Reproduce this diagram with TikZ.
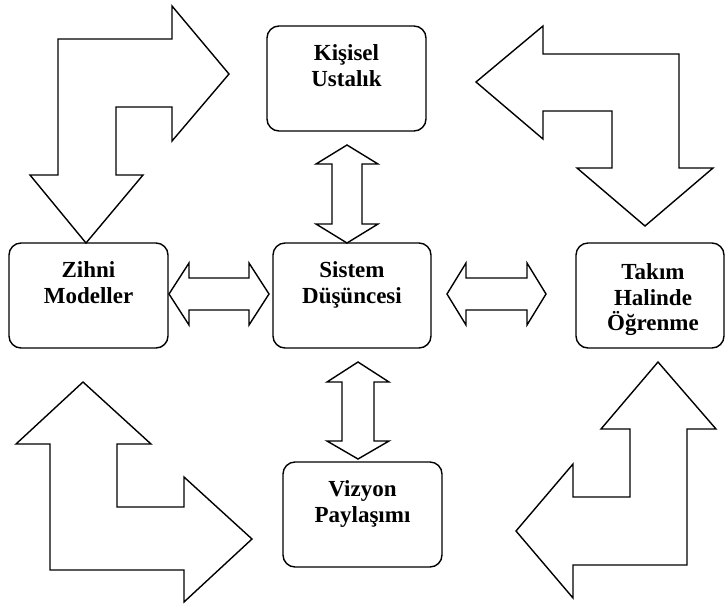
\documentclass[tikz,border=0pt]{standalone}
\usepackage{fontspec}
\setmainfont{Liberation Serif}
\begin{document}
\begin{tikzpicture}[x=1pt, y=-1pt, line width=1.4pt, line join=miter,
  discbox/.style={draw, rounded corners=12pt, minimum height=105pt, inner sep=0pt},
  disctext/.style={anchor=north, inner sep=0pt, align=center,
    font=\fontsize{23}{25.5}\selectfont\bfseries},
  blockarrow/.style={draw, fill=white}]
  \useasboundingbox (0,0) rectangle (725,606);
  \fill[white] (0,0) rectangle (725,606);

  % the five disciplines
  \node[discbox, minimum width=159pt] (kis) at (346.5,78.5) {};
  \node[discbox, minimum width=158pt] (sis) at (352,295.5) {};
  \node[discbox, minimum width=159pt] (zih) at (88.5,295.5) {};
  \node[discbox, minimum width=148pt] (tak) at (650,295.5) {};
  \node[discbox, minimum width=159pt] (viz) at (362.5,514.5) {};

  \node[disctext] (kist) at ([yshift=-19pt]kis.north) {Kişisel\\Ustalık};
  \node[disctext] (sist) at ([yshift=-19pt]sis.north) {Sistem\\Düşüncesi};
  \node[disctext] (ziht) at ([yshift=-19pt]zih.north) {Zihni\\Modeller};
  \node[disctext] (takt) at ([xshift=3pt,yshift=-21pt]tak.north) {Takım\\Halinde\\Öğrenme};
  \node[disctext] (vizt) at ([yshift=-19pt]viz.north) {Vizyon\\Paylaşımı};

  % double-headed block arrows around the centre
  \draw[blockarrow] (347,145) -- (378,164) -- (362,164) -- (362,224) -- (378,224)
    -- (347,243) -- (316,224) -- (332,224) -- (332,164) -- (316,164) -- cycle;
  \draw[blockarrow] (358,362) -- (389,382) -- (374,382) -- (374,441) -- (389,441)
    -- (358,459) -- (327,441) -- (342,441) -- (342,382) -- (327,382) -- cycle;
  \draw[blockarrow] (169,294) -- (189,263) -- (189,278) -- (249,278) -- (249,263)
    -- (269,294) -- (249,325) -- (249,310) -- (189,310) -- (189,325) -- cycle;
  \draw[blockarrow] (447,294) -- (466,263) -- (466,278) -- (527,278) -- (527,263)
    -- (546,294) -- (527,325) -- (527,310) -- (466,310) -- (466,325) -- cycle;

  % bent double arrows in the corners
  \draw[blockarrow] (86,243) -- (30,175) -- (58,175) -- (58,39) -- (172,39)
    -- (172,6) -- (229,74) -- (172,141) -- (172,107) -- (116,107) -- (116,175)
    -- (143,175) -- cycle;
  \draw[blockarrow] (645,226) -- (577,168) -- (612,168) -- (612,111) -- (543,111)
    -- (543,139) -- (476,82) -- (543,26) -- (543,54) -- (679,54) -- (679,168)
    -- (713,168) -- cycle;
  \draw[blockarrow] (83,382) -- (151,444) -- (117,444) -- (117,507) -- (184,507)
    -- (184,477) -- (252,539) -- (184,602) -- (184,570) -- (50,570) -- (50,444)
    -- (16,444) -- cycle;
  \draw[blockarrow] (658,362) -- (716,429) -- (687,429) -- (687,565) -- (573,565)
    -- (573,598) -- (516,531) -- (573,464) -- (573,497) -- (630,497) -- (630,429)
    -- (601,429) -- cycle;
\end{tikzpicture}
\end{document}
